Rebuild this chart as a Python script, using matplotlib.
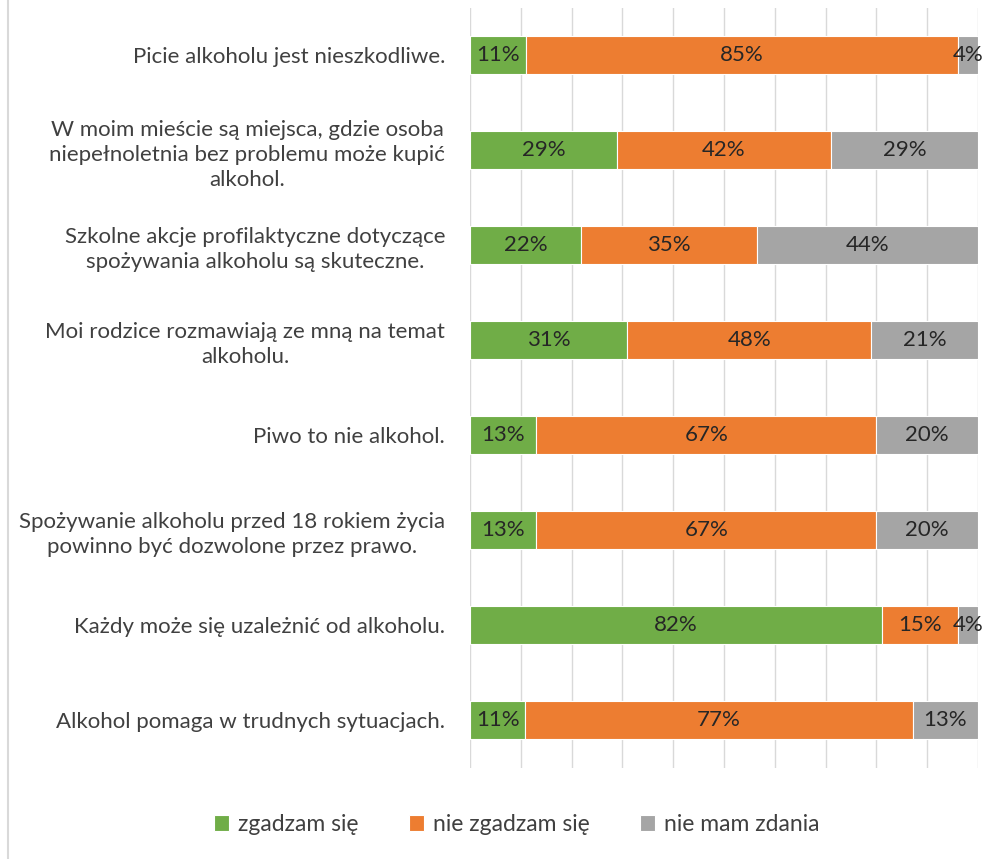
import matplotlib.pyplot as plt
from matplotlib.lines import Line2D
import numpy as np

plt.rcParams['font.family'] = ['Lato', 'DejaVu Sans']

# statements, top to bottom
categories = [
    'Picie alkoholu jest nieszkodliwe.',
    'W moim mieście są miejsca, gdzie osoba\nniepełnoletnia bez problemu może kupić\nalkohol.',
    'Szkolne akcje profilaktyczne dotyczące\nspożywania alkoholu są skuteczne.',
    'Moi rodzice rozmawiają ze mną na temat\nalkoholu.',
    'Piwo to nie alkohol.',
    'Spożywanie alkoholu przed 18 rokiem życia\npowinno być dozwolone przez prawo.',
    'Każdy może się uzależnić od alkoholu.',
    'Alkohol pomaga w trudnych sytuacjach.',
]
agree = [11, 29, 22, 31, 13, 13, 82, 11]
disagree = [85, 42, 35, 48, 67, 67, 15, 77]
no_opinion = [4, 29, 44, 21, 20, 20, 4, 13]

series = ['zgadzam się', 'nie zgadzam się', 'nie mam zdania']
colors = ['#70AD47', '#ED7D31', '#A5A5A5']

data = np.array([agree, disagree, no_opinion], dtype=float)
shares = data / data.sum(axis=0) * 100  # 100% stacked

fig = plt.figure(figsize=(10.03, 8.59), dpi=100)
ax = fig.add_axes([0.4686, 0.106, 0.5065, 0.8847])

y = np.arange(len(categories))
left = np.zeros(len(categories))
for i, name in enumerate(series):
    bars = ax.barh(y, shares[i], left=left, height=0.4, color=colors[i],
                   edgecolor='white', linewidth=0.8, label=name, zorder=2)
    ax.bar_label(bars, labels=[f'{int(v)}%' for v in data[i]],
                 label_type='center', fontsize=16, color='#262626')
    left += shares[i]

ax.set_xlim(0, 100)
ax.set_ylim(len(categories) - 0.5, -0.5)
ax.set_xticks(np.arange(0, 101, 10))
ax.set_xticklabels([])
ax.tick_params(axis='both', length=0)
ax.grid(axis='x', color='#D9D9D9', linewidth=1, zorder=0)
for s in ax.spines.values():
    s.set_visible(False)

ax.set_yticks(y)
ax.set_yticklabels(categories, fontsize=16, color='#404040')
for lbl in ax.get_yticklabels():
    lbl.set_multialignment('center')
    lbl.set_linespacing(1.3)
ax.tick_params(axis='y', pad=18)

fig.legend(loc='center', bbox_to_anchor=(0.515, 0.04), ncol=3, frameon=False,
           fontsize=16.5, handlelength=0.65, handleheight=0.65, columnspacing=2.2,
           handletextpad=0.4, labelcolor='#404040')

# chart frame edge at the left
fig.add_artist(Line2D([0.008, 0.008], [0.0, 1.0], color='#D9D9D9',
                      linewidth=1.5, transform=fig.transFigure))

fig.savefig('out.png', dpi=100)
